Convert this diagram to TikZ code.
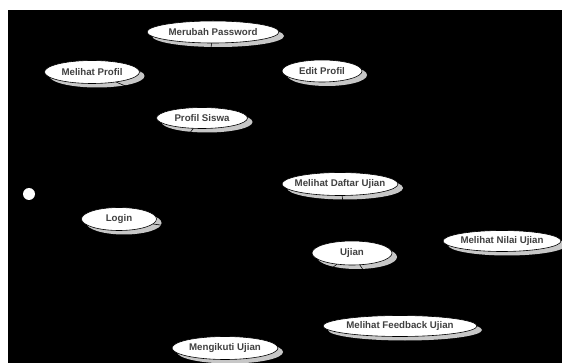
\documentclass[tikz,border=0pt]{standalone}
\usepackage{fontspec}
\setmainfont{Liberation Sans}
\usetikzlibrary{shapes.geometric,shadows}

\begin{document}
\begin{tikzpicture}[x=1pt, y=-1pt,
    usecase/.style={ellipse, draw=black, fill=white, line width=0.6pt,
      inner xsep=-30pt, inner ysep=0pt, text=black!75,
      font=\bfseries\fontsize{9.7}{10}\selectfont,
      general shadow={fill=black!22, shadow xshift=5pt, shadow yshift=-4pt}},
    link/.style={draw=black, line width=0.6pt}]
  \useasboundingbox (0,0) rectangle (562,363);
  \fill[black] (8,10) rectangle (562,363);
  \foreach \name/\x/\y/\w/\h/\txt in {
      password/213/32/132/22/Merubah Password,
      melihat/92/72/95/23/Melihat Profil,
      edit/322/71/80/22/Edit Profil,
      profil/202/118/91/21/Profil Siswa,
      daftar/340/184/116/23/Melihat Daftar Ujian,
      login/119/219/75/23/Login,
      ujian/352/253/80/24/Ujian,
      nilai/502/241/118/21/Melihat Nilai Ujian,
      feedback/400/326/154/21/Melihat Feedback Ujian,
      ikut/225/348/106/23/Mengikuti Ujian
    } {
      \node[usecase, minimum width=\w pt, minimum height=\h pt] (\name) at (\x,\y) {\txt};
    }
  \node[circle, fill=white, minimum size=12pt, inner sep=0pt] (siswa) at (29,194) {};
  % relasi
  \draw[link] (login) -- (profil);
  \draw[link] (profil) -- (melihat);
  \draw[link] (profil) -- (password);
  \draw[link] (edit) -- (melihat);
  \draw[link] (login) -- (ujian);
  \draw[link] (ujian) -- (daftar);
  \draw[link] (ikut) -- (ujian);
  \draw[link] (feedback) -- (ujian);
\end{tikzpicture}
\end{document}
